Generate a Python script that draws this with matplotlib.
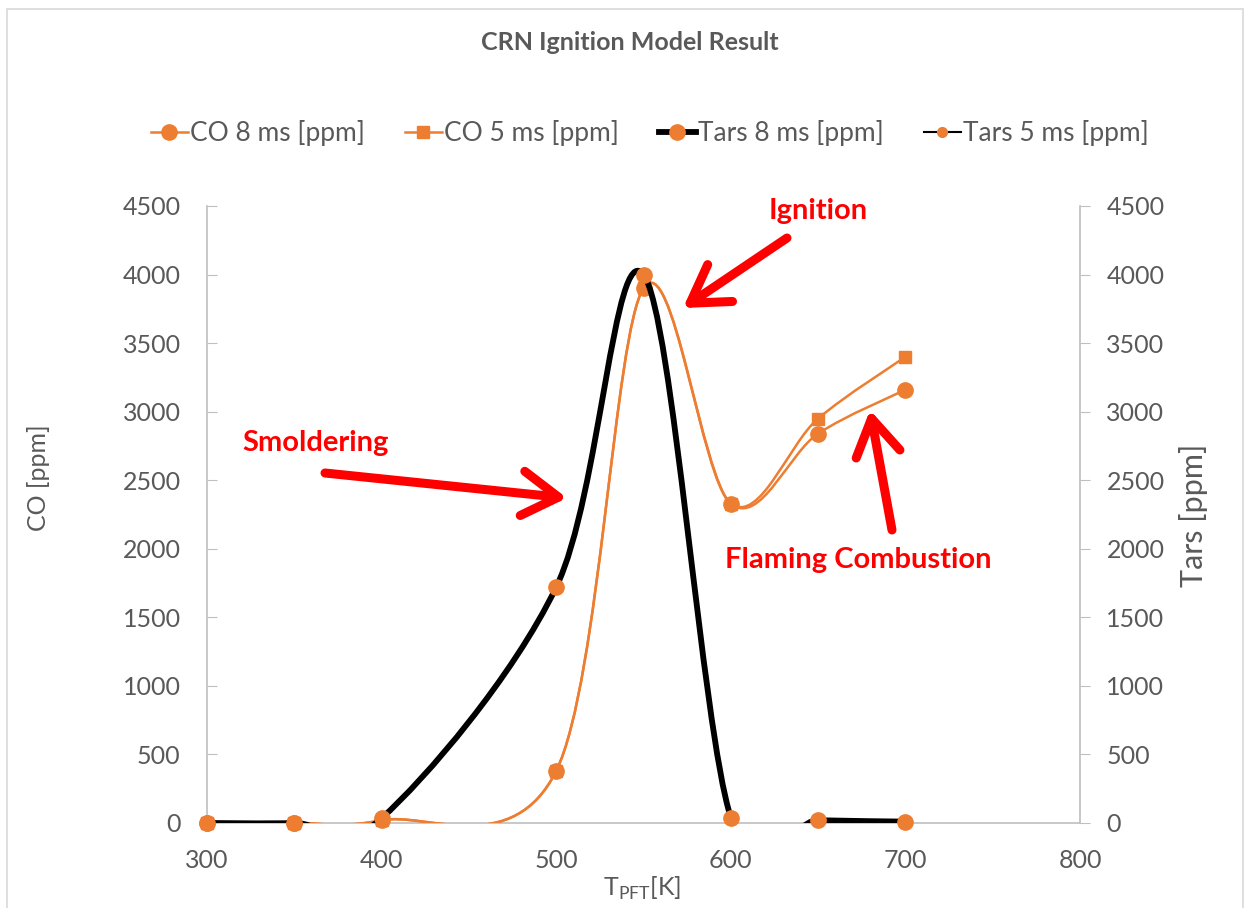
import numpy as np
import matplotlib
matplotlib.use("Agg")
import matplotlib.pyplot as plt
from matplotlib.path import Path
from matplotlib.patches import PathPatch, Rectangle
from matplotlib.lines import Line2D

# data
temps = [300, 350, 400, 500, 550, 600, 650, 700]
co_8ms = [0, 0, 20, 380, 3900, 2330, 2840, 3160]
co_5ms = [0, 0, 20, 380, 3900, 2330, 2950, 3400]
tars_8ms = [0, 0, 35, 1720, 4000, 40, 20, 10]
tars_5ms = [0, 0, 35, 1720, 4000, 40, 20, 10]

orange = "#ED7D31"
gray_txt = "#595959"
gray_line = "#BFBFBF"
W, H = 1250, 908

plt.rcParams["font.family"] = ["Lato", "DejaVu Sans"]


def smooth_path(x, y):
    # Excel-style smoothed line: cubic bezier through every point
    pts = np.column_stack([x, y]).astype(float)
    n = len(pts)
    verts = [pts[0]]
    codes = [Path.MOVETO]
    for i in range(n - 1):
        p0 = pts[i - 1] if i > 0 else pts[i]
        p1 = pts[i]
        p2 = pts[i + 1]
        p3 = pts[i + 2] if i + 2 < n else pts[i + 1]
        verts += [p1 + (p2 - p0) / 6, p2 - (p3 - p1) / 6, p2]
        codes += [Path.CURVE4] * 3
    return Path(verts, codes)


def draw_series(ax, x, y, lw, color, marker, ms, z):
    patch = PathPatch(smooth_path(x, y), fill=False, edgecolor=color, lw=lw,
                      capstyle="round", joinstyle="round", zorder=z)
    ax.add_patch(patch)
    ax.plot(x, y, linestyle="none", marker=marker, ms=ms, color=orange,
            mec=orange, zorder=z + 0.5, clip_on=False)


fig = plt.figure(figsize=(W / 100, H / 100), dpi=100)
ax = fig.add_axes([207 / W, 1 - 823 / H, (1080 - 207) / W, (823 - 206) / H])
ax2 = ax.twinx()

draw_series(ax, temps, co_5ms, 1.8, orange, "s", 8, 3)
draw_series(ax, temps, co_8ms, 1.8, orange, "o", 11, 4)
draw_series(ax2, temps, tars_5ms, 1.2, "black", "o", 7, 3)
draw_series(ax2, temps, tars_8ms, 4.2, "black", "o", 11, 4)

for a in (ax, ax2):
    a.set_xlim(300, 800)
    a.set_ylim(0, 4500)
    a.set_yticks(np.arange(0, 4501, 500))
    for s in a.spines.values():
        s.set_visible(False)
ax.set_xticks(np.arange(300, 801, 100))

ax.spines["left"].set_visible(True)
ax.spines["bottom"].set_visible(True)
ax2.spines["right"].set_visible(True)
for s in (ax.spines["left"], ax.spines["bottom"], ax2.spines["right"]):
    s.set_color(gray_line)
    s.set_linewidth(1.2)

ax.tick_params(axis="y", direction="in", length=7, color=gray_line,
               labelcolor=gray_txt, labelsize=18, pad=19)
ax.tick_params(axis="x", length=0, labelcolor=gray_txt, labelsize=18, pad=19)
ax2.tick_params(axis="y", direction="out", length=7, color=gray_line,
                labelcolor=gray_txt, labelsize=18, pad=12)

fig.text(630 / W, 1 - 42 / H, "CRN Ignition Model Result", ha="center",
         va="center", fontsize=18, fontweight="bold", color=gray_txt)
fig.text(38 / W, 1 - 478 / H, "CO [ppm]", rotation=90, ha="center",
         va="center", fontsize=18, color=gray_txt)
fig.text(1193 / W, 1 - 515 / H, "Tars [ppm]", rotation=90, ha="center",
         va="center", fontsize=22, color=gray_txt)
fig.text(642 / W, 1 - 888 / H, r"T$_{\mathregular{PFT}}$[K]", ha="center",
         va="center", fontsize=18, color=gray_txt)

handles = [
    Line2D([], [], color=orange, lw=1.8, marker="o", ms=11),
    Line2D([], [], color=orange, lw=1.8, marker="s", ms=8),
    Line2D([], [], color="black", lw=4.2, marker="o", ms=11, mfc=orange, mec=orange),
    Line2D([], [], color="black", lw=1.5, marker="o", ms=7, mfc=orange, mec=orange),
]
labels = ["CO 8 ms [ppm]", "CO 5 ms [ppm]", "Tars 8 ms [ppm]", "Tars 5 ms [ppm]"]
fig.legend(handles, labels, loc="center", bbox_to_anchor=(650 / W, 1 - 133 / H),
           ncol=4, frameon=False, fontsize=19, handlelength=1.4,
           handletextpad=0.1, columnspacing=1.5, labelcolor=gray_txt)

# red annotations
red = "red"
notes = [
    ("Smoldering", (316, 443), (325, 473), (567, 498)),
    ("Ignition", (818, 211), (787, 238), (683, 308)),
    ("Flaming Combustion", (858, 560), (892, 530), (870, 410)),
]
for txt, (tx, ty), (x0, y0), (x1, y1) in notes:
    fig.text(tx / W, 1 - ty / H, txt, ha="center", va="center", fontsize=21,
             fontweight="bold", color=red)
    ax.annotate("", xy=(x1, H - y1), xycoords="figure pixels",
                xytext=(x0, H - y0), textcoords="figure pixels",
                arrowprops=dict(arrowstyle="->,head_length=1.3,head_width=0.8",
                                mutation_scale=20, lw=6.5, color=red,
                                shrinkA=0, shrinkB=0, capstyle="round",
                                joinstyle="round"),
                annotation_clip=False)

# chart border
fig.add_artist(Rectangle((7 / W, -0.05), (1243 - 7) / W, 1.05 - 9 / H,
                         transform=fig.transFigure, fill=False,
                         edgecolor="#D9D9D9", lw=1.2))

fig.savefig("out.png", dpi=100)
